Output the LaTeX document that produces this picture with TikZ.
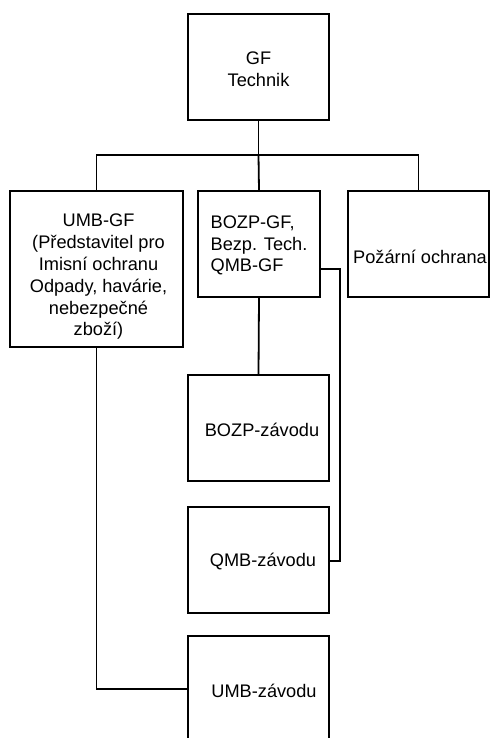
\documentclass[tikz,border=0pt]{standalone}
\usepackage{fontspec}
\setmainfont{Liberation Sans}
\begin{document}
\begin{tikzpicture}[x=1pt,y=-1pt,
  box/.style={draw, line width=1.8pt, inner sep=0pt, minimum width=#1},
  box/.default=141pt,
  conn/.style={line width=1.8pt},
  every label/.style={font=\fontsize{18.2}{21.8}\selectfont, align=center, inner sep=0pt}]
\useasboundingbox (0,0) rectangle (490,738);
\node[box, minimum height=106pt, label={[yshift=-2.5pt]center:GF\\Technik}] (gf) at (258.5,67) {};
\node[box=173pt, minimum height=156pt, label={[yshift=-8pt,xshift=2pt]center:UMB-GF\\(Představitel pro\\Imisní ochranu\\Odpady, havárie,\\nebezpečné\\zboží)}] (umbgf) at (96.5,269) {};
\node[box=122pt, minimum height=106pt, label={[align=left,yshift=-1.5pt]center:BOZP-GF,\\Bezp. Tech.\\QMB-GF}] (bozpgf) at (259,244) {};
\node[box, minimum height=106pt, label={[yshift=-12.5pt,xshift=1.5pt]center:Požární ochrana}] (poz) at (418.5,244) {};
\node[box, minimum height=106pt, label={[yshift=-2pt,xshift=3.5pt]center:BOZP-závodu}] (bozpz) at (258.5,428) {};
\node[box, minimum height=106pt, label={[yshift=-2pt,xshift=4.5pt]center:QMB-závodu}] (qmbz) at (258.5,560) {};
\node[box, minimum height=106pt, label={[yshift=-2pt,xshift=5.5pt]center:UMB-závodu}] (umbz) at (258.5,689) {};
\coordinate (bus) at (258.5,155);
\draw[conn] (gf.south) -- (bus);
\draw[conn] (umbgf.north) -- (umbgf.north |- bus) -- (poz.north |- bus) -- (poz.north);
\draw[conn] (bus) -- (bozpgf.north);
\draw[conn] (bozpgf.south) -- (bozpz.north);
\draw[conn] (bozpgf.east |- 0,269) -- (340,269) -- (340,561) -- (qmbz.east |- 0,561);
\draw[conn] (umbgf.south) -- (umbgf.south |- umbz.west) -- (umbz.west);
\end{tikzpicture}
\end{document}
